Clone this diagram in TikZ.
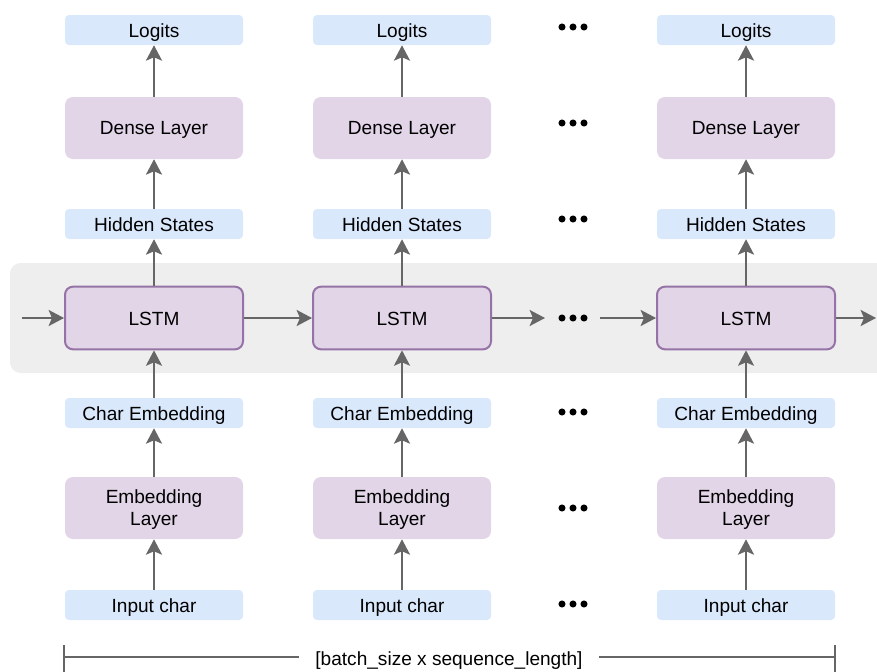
\documentclass[tikz,border=0pt]{standalone}
\usepackage{fontspec}
\setmainfont{Liberation Sans}
\usetikzlibrary{arrows.meta}
\usetikzlibrary{positioning}
\definecolor{boxblue}{HTML}{DAE8FC}
\definecolor{boxpurple}{HTML}{E1D5E7}
\definecolor{edgepurple}{HTML}{9673A6}
\definecolor{arrowgray}{HTML}{666666}
\definecolor{bandgray}{HTML}{EEEEEE}
\tikzset{small/.style = {fill = boxblue, rounded corners = 3pt, inner sep = 0,
    minimum width = 133.5pt, minimum height = 22.5pt,
    text height = 11.2pt, text depth = 0pt}}
\tikzset{big/.style = {fill = boxpurple, rounded corners = 6pt, inner sep = 0,
    minimum width = 133.5pt, minimum height = 46.5pt, align = center,
    text depth = 0pt}}
\tikzset{cell/.style = {big, draw = edgepurple, line width = 1.5pt, minimum height = 47pt,
    text height = 11.2pt}}
\tikzset{arr/.style = {draw = arrowgray, line width = 1.8pt,
    -{Stealth[length = 11.5pt, width = 12pt, inset = 2.5pt]}}}
\tikzset{circ/.style = {fill, circle, inner sep = 0, minimum size = 5.3pt}}

\begin{document}
\begin{tikzpicture}[x = 0.75pt, y = -0.75pt,
    font = \fontsize{14.3}{16.5}\selectfont]
      \useasboundingbox (0, 0) rectangle (877, 671);

      % band behind the recurrent cells
      \fill [bandgray, rounded corners = 8pt] (10, 263) rectangle (890, 373);

      \foreach \c/\x in {1/154, 2/402, 3/746} {
        \node [small] (logit\c) at (\x, 30) {Logits};
        \node [big] (dense\c) at (\x, 128) {Dense Layer};
        \node [small] (hid\c) at (\x, 224) {Hidden States};
        \node [cell] (lstm\c) at (\x, 318) {LSTM};
        \node [small] (emb\c) at (\x, 413) {Char Embedding};
        \node [big] (layer\c) at (\x, 508) {Embedding\\Layer};
        \node [small] (in\c) at (\x, 605) {Input char};

        \draw [arr] (in\c) -- (layer\c);
        \draw [arr] (layer\c) -- (emb\c);
        \draw [arr] (emb\c) -- (lstm\c);
        \draw [arr] (lstm\c) -- (hid\c);
        \draw [arr] (hid\c) -- (dense\c);
        \draw [arr] (dense\c) -- (logit\c);
      }

      % dots between the columns
      \foreach \r/\y in {1/27, 2/123, 3/219, 4/318, 5/412, 6/508, 7/604} {
        \foreach \k/\x in {1/562, 2/573, 3/584} {
          \node [circ] (dot\r\k) at (\x, \y) {};
        }
      }

      % recurrent connections
      \coordinate (start) at (22, 318);
      \coordinate (gapl) at (545, 318);
      \coordinate (gapr) at (600, 318);
      \coordinate (stop) at (876, 318);
      \draw [arr] (start) -- (lstm1);
      \draw [arr] (lstm1) -- (lstm2);
      \draw [arr] (lstm2) -- (gapl);
      \draw [arr] (gapr) -- (lstm3);
      \draw [arr] (lstm3) -- (stop);

      % span of the sequence
      \coordinate (bl) at (64, 657);
      \coordinate (br) at (835, 657);
      \node [inner xsep = 12pt, inner ysep = 0, text height = 10.2pt, text depth = 0pt]
        (span) at (449, 659) {[batch\_size x sequence\_length]};
      \draw [arrowgray, line width = 1.5pt] (64, 645) -- (64, 672);
      \draw [arrowgray, line width = 1.5pt] (835, 645) -- (835, 672);
      \draw [arrowgray, line width = 1.5pt] (bl) -- (bl -| span.west);
      \draw [arrowgray, line width = 1.5pt] (br -| span.east) -- (br);
\end{tikzpicture}
\end{document}
